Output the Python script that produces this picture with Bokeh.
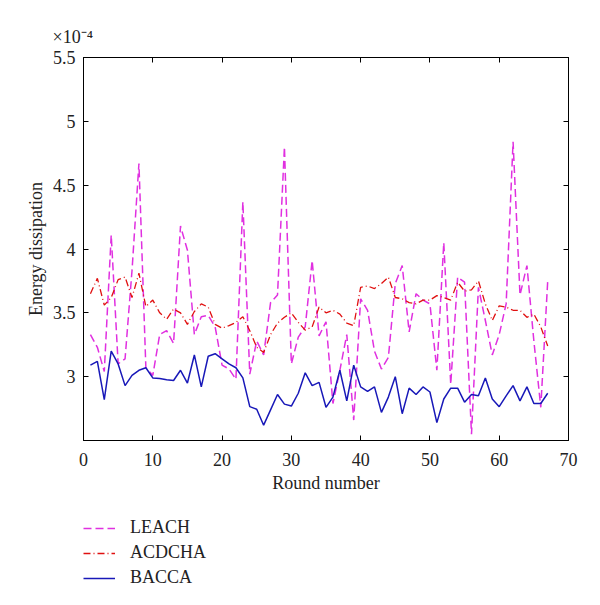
from bokeh.plotting import figure
from bokeh.models import Range1d, FixedTicker, LinearAxis, Legend, LegendItem, Title
from bokeh.layouts import column
from bokeh.embed import file_html
from bokeh.resources import INLINE

rounds = list(range(1, 68))
leach = [3.33, 3.23, 3.04, 4.11, 3.10, 3.14, 3.83, 4.67, 3.07, 3.01,
         3.33, 3.36, 3.26, 4.18, 3.99, 3.33, 3.47, 3.48, 3.39, 3.09,
         3.06, 2.98, 4.37, 3.02, 3.28, 3.17, 3.58, 3.64, 4.80, 3.10,
         3.31, 3.39, 3.91, 3.32, 3.43, 2.79, 3.05, 3.33, 2.66, 3.61,
         3.52, 3.20, 3.06, 3.15, 3.73, 3.87, 3.35, 3.65, 3.60, 3.57,
         3.05, 4.05, 2.94, 3.78, 3.74, 2.55, 3.70, 3.44, 3.17, 3.33,
         3.57, 4.84, 3.64, 3.87, 3.28, 2.76, 3.75]
acdcha = [3.65, 3.77, 3.56, 3.62, 3.76, 3.78, 3.62, 3.81, 3.55, 3.60,
          3.50, 3.45, 3.53, 3.50, 3.41, 3.51, 3.57, 3.545, 3.41, 3.38,
          3.40, 3.425, 3.47, 3.36, 3.23, 3.19, 3.33, 3.42, 3.465, 3.50,
          3.425, 3.365, 3.39, 3.545, 3.50, 3.52, 3.49, 3.42, 3.40, 3.70,
          3.71, 3.69, 3.73, 3.78, 3.62, 3.61, 3.58, 3.57, 3.60, 3.60,
          3.635, 3.62, 3.60, 3.74, 3.67, 3.68, 3.75, 3.57, 3.44, 3.555,
          3.545, 3.52, 3.52, 3.465, 3.49, 3.39, 3.24]
bacca = [3.09, 3.12, 2.82, 3.20, 3.10, 2.93, 3.01, 3.05, 3.07, 2.99,
         2.985, 2.975, 2.97, 3.05, 2.95, 3.17, 2.92, 3.16, 3.18, 3.14,
         3.10, 3.07, 2.99, 2.765, 2.745, 2.62, 2.74, 2.86, 2.785, 2.77,
         2.87, 3.03, 2.93, 2.955, 2.76, 2.84, 3.05, 2.81, 3.09, 2.92,
         2.885, 2.92, 2.72, 2.84, 3.00, 2.71, 2.91, 2.86, 2.92, 2.88,
         2.64, 2.825, 2.91, 2.91, 2.80, 2.86, 2.85, 2.99, 2.825, 2.765,
         2.85, 2.93, 2.81, 2.92, 2.79, 2.79, 2.87]
series_names = ["LEACH", "ACDCHA", "BACCA"]
series_colors = ["#e030e0", "#e01010", "#1818b8"]
series_dash = ["8 4", "7 3 1 3", "solid"]
series_width = [1.5, 1.3, 1.5]
x_ticks = [0, 10, 20, 30, 40, 50, 60, 70]
y_ticks = [3, 3.5, 4, 4.5, 5, 5.5]
y_tick_labels = ["3", "3.5", "4", "4.5", "5", "5.5"]
scale_text = "×10⁻⁴"

FONT = "Liberation Serif"
TXT = "#222222"
FS = "18px"

p = figure(width=592, height=500, x_range=Range1d(0, 70), y_range=Range1d(2.5, 5.5),
           output_backend="svg", toolbar_location=None,
           min_border_left=83, min_border_right=24, min_border_top=57, min_border_bottom=60)
p.xgrid.visible = False
p.ygrid.visible = False
p.outline_line_color = "black"
p.outline_line_width = 1
p.background_fill_color = "white"
p.border_fill_color = "white"

for ax in (p.xaxis[0], p.yaxis[0]):
    ax.major_tick_in = 5
    ax.major_tick_out = 0
    ax.minor_tick_in = 0
    ax.minor_tick_out = 0
    ax.axis_line_color = "black"
    ax.major_tick_line_color = "black"
    ax.major_label_text_font = FONT
    ax.major_label_text_font_size = FS
    ax.major_label_text_color = TXT
    ax.axis_label_text_font = FONT
    ax.axis_label_text_font_size = FS
    ax.axis_label_text_font_style = "normal"
    ax.axis_label_text_color = TXT

p.xaxis[0].ticker = FixedTicker(ticks=x_ticks)
p.yaxis[0].ticker = FixedTicker(ticks=y_ticks)
p.yaxis[0].major_label_overrides = {t: l for t, l in zip(y_ticks, y_tick_labels)}
p.xaxis[0].axis_label = "Round number"
p.yaxis[0].axis_label = "Energy dissipation"
p.xaxis[0].major_label_standoff = 12
p.yaxis[0].major_label_standoff = 8
p.xaxis[0].axis_label_standoff = 4
p.yaxis[0].axis_label_standoff = 4

top = LinearAxis(ticker=FixedTicker(ticks=x_ticks), major_tick_in=5, major_tick_out=0,
                 minor_tick_in=0, minor_tick_out=0, major_label_standoff=0,
                 major_label_overrides={t: "" for t in x_ticks})
right = LinearAxis(ticker=FixedTicker(ticks=y_ticks), major_tick_in=5, major_tick_out=0,
                   minor_tick_in=0, minor_tick_out=0, major_label_standoff=0,
                   major_label_overrides={t: "" for t in y_ticks})
p.add_layout(top, "above")
p.add_layout(right, "right")

p.add_layout(Title(text=scale_text, align="left", offset=-31, standoff=21,
                   text_font=FONT, text_font_size=FS, text_font_style="normal",
                   text_color=TXT), "above")

for ys, c, d, w in zip([leach, acdcha, bacca], series_colors, series_dash, series_width):
    p.line(rounds, ys, line_color=c, line_width=w, line_dash=d)

# legend panel below the chart (its lines fall outside this panel's ranges)
q = figure(width=592, height=97, x_range=Range1d(0, 1), y_range=Range1d(0, 1),
           output_backend="svg", toolbar_location=None,
           min_border_left=0, min_border_right=0, min_border_top=0, min_border_bottom=0)
q.axis.visible = False
q.grid.visible = False
q.outline_line_color = None
q.background_fill_color = "white"
q.border_fill_color = "white"
items = []
for name, ys, c, d, w in zip(series_names, [leach, acdcha, bacca], series_colors,
                             series_dash, series_width):
    r = q.line(rounds, ys, line_color=c, line_width=w, line_dash=d)
    items.append(LegendItem(label=name, renderers=[r]))
legend = Legend(items=items, location=(0, 7), orientation="vertical",
                glyph_width=32, glyph_height=20, label_height=25, label_standoff=15,
                spacing=0, padding=0, margin=0,
                border_line_color=None, background_fill_alpha=0,
                label_text_font=FONT, label_text_font_size=FS, label_text_color=TXT)
q.add_layout(legend, "center")

layout = column(p, q, spacing=0)
open("out.html", "w").write(file_html(layout, INLINE))
